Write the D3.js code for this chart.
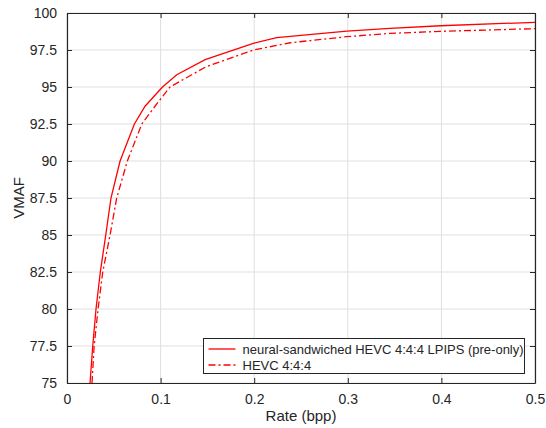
<!DOCTYPE html>
<html>
<head>
<meta charset="utf-8">
<script src="https://cdn.jsdelivr.net/npm/d3@7"></script>
<style>
  body { margin: 0; background: #fff; }
  text { font-family: "Liberation Sans", Arial, sans-serif; fill: #262626; }
</style>
</head>
<body>
<div id="chart"></div>
<script>
// values
const rateSandwich = [0.0246, 0.0275, 0.031, 0.0356, 0.0414, 0.047, 0.0567, 0.072, 0.0834, 0.102, 0.1173, 0.1476, 0.199, 0.224, 0.299, 0.345, 0.399, 0.5];
const vmafSandwich = [75, 77.5, 80, 82.5, 85, 87.5, 90, 92.5, 93.7, 95, 95.83, 96.85, 97.95, 98.33, 98.78, 98.96, 99.14, 99.37];
const rateHevc = [0.0267, 0.029, 0.0332, 0.0382, 0.046, 0.0531, 0.0645, 0.0799, 0.094, 0.110, 0.148, 0.199, 0.2385, 0.299, 0.345, 0.399, 0.5];
const vmafHevc = [75, 77.5, 80, 82.5, 85, 87.5, 90, 92.5, 93.7, 95, 96.35, 97.5, 97.99, 98.4, 98.62, 98.76, 98.94];
const xTicks = [0, 0.1, 0.2, 0.3, 0.4, 0.5];
const yTicks = [75, 77.5, 80, 82.5, 85, 87.5, 90, 92.5, 95, 97.5, 100];
const seriesNames = ["neural-sandwiched HEVC 4:4:4 LPIPS (pre-only)", "HEVC 4:4:4"];

const width = 546, height = 428;
const margin = {top: 13, right: 11, bottom: 45, left: 67};
const innerW = width - margin.left - margin.right;
const innerH = height - margin.top - margin.bottom;

const svg = d3.select("#chart").append("svg")
    .attr("width", width)
    .attr("height", height);

const g = svg.append("g")
    .attr("transform", `translate(${margin.left},${margin.top})`);

const x = d3.scaleLinear().domain([0, 0.5]).range([0, innerW]);
const y = d3.scaleLinear().domain([75, 100]).range([innerH, 0]);

g.append("defs").append("clipPath").attr("id", "clip")
    .append("rect").attr("width", innerW).attr("height", innerH);

// grid
g.append("g").selectAll("line").data(xTicks).enter().append("line")
    .attr("x1", d => x(d)).attr("x2", d => x(d))
    .attr("y1", 0).attr("y2", innerH)
    .style("stroke", "#dfdfdf").style("stroke-width", 1);
g.append("g").selectAll("line").data(yTicks).enter().append("line")
    .attr("x1", 0).attr("x2", innerW)
    .attr("y1", d => y(d)).attr("y2", d => y(d))
    .style("stroke", "#dfdfdf").style("stroke-width", 1);

// axes (ticks inward, mirrored on top/right)
const styleAxis = sel => {
    sel.select(".domain").style("stroke", "#262626").style("stroke-width", 1.2);
    sel.selectAll(".tick line").style("stroke", "#262626");
    sel.selectAll("text").style("font-size", "14px").style("fill", "#262626")
        .style("font-family", "'Liberation Sans', Arial, sans-serif");
};

g.append("g").attr("transform", `translate(0,${innerH})`)
    .call(d3.axisBottom(x).tickValues(xTicks).tickSize(-5).tickPadding(11).tickFormat(d3.format("")).tickSizeOuter(0))
    .call(styleAxis);
g.append("g")
    .call(d3.axisLeft(y).tickValues(yTicks).tickSize(-5).tickPadding(10).tickFormat(d3.format("")).tickSizeOuter(0))
    .call(styleAxis);
g.append("g")
    .call(d3.axisTop(x).tickValues(xTicks).tickSize(-5).tickFormat("").tickSizeOuter(0))
    .call(styleAxis);
g.append("g").attr("transform", `translate(${innerW},0)`)
    .call(d3.axisRight(y).tickValues(yTicks).tickSize(-5).tickFormat("").tickSizeOuter(0))
    .call(styleAxis);

// curves
const line = d3.line().x(d => x(d[0])).y(d => y(d[1]));
const sandwich = d3.zip(rateSandwich, vmafSandwich);
const hevc = d3.zip(rateHevc, vmafHevc);

g.append("path").datum(hevc)
    .attr("clip-path", "url(#clip)")
    .attr("d", line)
    .style("fill", "none").style("stroke", "#ff0000").style("stroke-width", 1.3)
    .style("stroke-dasharray", "7,3,2,3");
g.append("path").datum(sandwich)
    .attr("clip-path", "url(#clip)")
    .attr("d", line)
    .style("fill", "none").style("stroke", "#ff0000").style("stroke-width", 1.3);

// legend
const legend = svg.append("g").attr("transform", "translate(203.5,338.5)");
legend.append("rect")
    .attr("width", 321).attr("height", 35)
    .style("fill", "#fff").style("stroke", "#262626").style("stroke-width", 1);
seriesNames.forEach((name, i) => {
    const ly = 10.5 + i * 16;
    legend.append("line")
        .attr("x1", 5).attr("x2", 32).attr("y1", ly).attr("y2", ly)
        .style("stroke", "#ff0000").style("stroke-width", 1.3)
        .style("stroke-dasharray", i === 1 ? "7,3,2,3" : null);
    legend.append("text")
        .attr("x", 39).attr("y", ly + 4.5)
        .style("font-size", "13px")
        .text(name);
});

// axis titles
svg.append("text")
    .attr("x", margin.left + innerW / 2)
    .attr("y", 421)
    .attr("text-anchor", "middle")
    .style("font-size", "15px")
    .text("Rate (bpp)");
svg.append("text")
    .attr("transform", "translate(24,198) rotate(-90)")
    .attr("text-anchor", "middle")
    .style("font-size", "15px")
    .text("VMAF");
</script>
</body>
</html>
